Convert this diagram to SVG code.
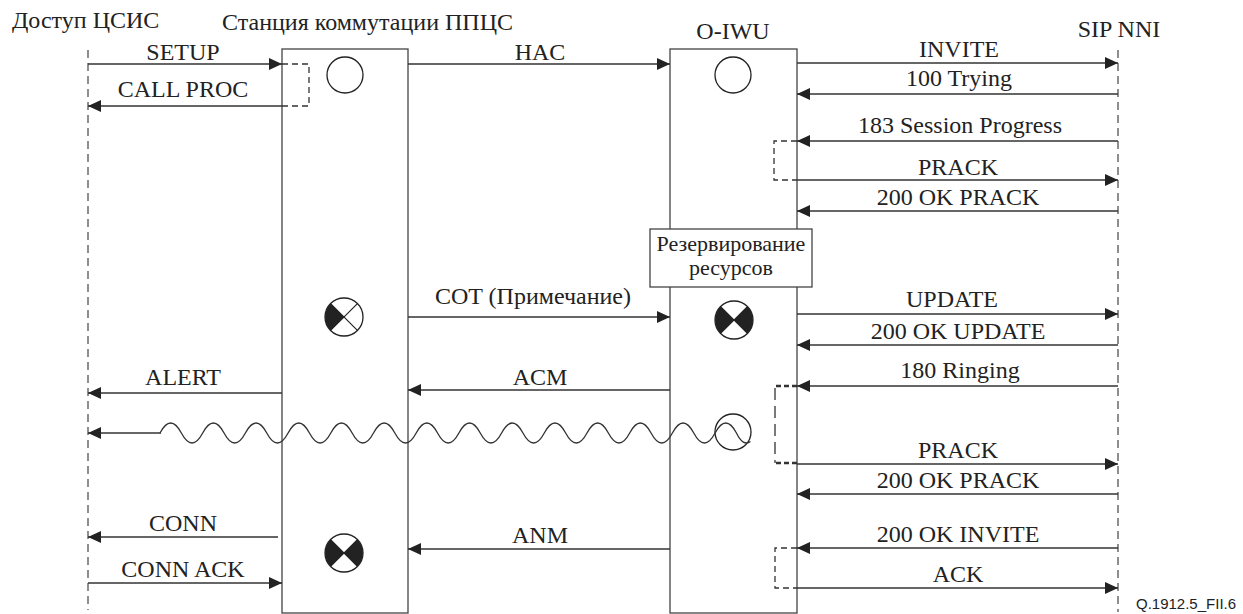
<svg xmlns="http://www.w3.org/2000/svg" width="1243" height="614" viewBox="0 0 1243 614">
<style>
.t{font-family:"Liberation Serif","Times New Roman",serif;font-size:24px;fill:#222;text-anchor:middle}
.h{font-family:"Liberation Serif","Times New Roman",serif;font-size:24px;fill:#222}
.r{font-family:"Liberation Serif","Times New Roman",serif;font-size:22px;fill:#222;text-anchor:middle}
.q{font-family:"Liberation Sans",Arial,sans-serif;font-size:15px;fill:#222}
.ln{stroke:#333;stroke-width:1.3;fill:none}
.ar{stroke:#333;stroke-width:1.3;fill:none;marker-end:url(#ah)}
.box{fill:#fff;stroke:#444;stroke-width:1.3}
.life{stroke:#444;stroke-width:1.2;stroke-dasharray:8 5;fill:none}
.db{stroke:#333;stroke-width:1.3;stroke-dasharray:6 4;fill:none}
.dbb{stroke:#333;stroke-width:2.6;stroke-dasharray:5 3;fill:none}
.sym{fill:#fff;stroke:#222;stroke-width:1.3}
</style>
<defs>
<marker id="ah" markerUnits="userSpaceOnUse" markerWidth="14" markerHeight="12" refX="13" refY="6" orient="auto">
<path d="M0,0 L13,6 L0,12 Z" fill="#222"/>
</marker>
<g id="xcross">
<circle r="19" class="sym"/>
<path d="M-13.4,-13.4 L13.4,13.4 M-13.4,13.4 L13.4,-13.4" stroke="#222" stroke-width="1.2"/>
</g>
<path id="lw" d="M0,0 L-13.4,-13.4 A19,19 0 0 0 -13.4,13.4 Z" fill="#222"/>
<path id="rw" d="M0,0 L13.4,-13.4 A19,19 0 0 1 13.4,13.4 Z" fill="#222"/>
</defs>

<g id="headers">
<text class="h" x="12" y="28">Доступ ЦСИС</text>
<text class="h" x="222" y="30">Станция коммутации ППЦС</text>
<text class="t" x="733" y="39">O-IWU</text>
<text class="t" x="1119" y="37">SIP NNI</text>
</g>

<g id="lifeline-isdn"><path class="life" d="M88,50 V610"/></g>
<g id="lifeline-sip"><path class="life" d="M1118,50 V612"/></g>

<g id="node-station">
<rect class="box" x="282" y="49" width="126" height="564"/>
<circle cx="345" cy="75" r="18" class="sym"/>
<g transform="translate(344,317)"><use href="#xcross"/><use href="#lw"/></g>
<g transform="translate(344,553)"><use href="#xcross"/><use href="#lw"/><use href="#rw"/></g>
</g>

<g id="node-oiwu">
<rect class="box" x="670" y="49" width="127" height="564"/>
<circle cx="733" cy="75" r="18" class="sym"/>
<g transform="translate(734,320)"><use href="#xcross"/><use href="#lw"/><use href="#rw"/></g>
<circle cx="733" cy="432" r="18" class="sym"/>
</g>

<g id="node-reserve">
<rect class="box" x="650" y="229" width="162" height="58"/>
<text class="r" x="731" y="251">Резервирование</text>
<text class="r" x="731" y="275">ресурсов</text>
</g>

<g id="connectors">
<path class="ar" d="M88,64 H282"/>
<path class="ar" d="M282,106 H88"/>
<path class="db" d="M282,64 H309 V106 H282"/>
<path class="ar" d="M282,393 H88"/>
<path class="ar" d="M161,433 H88"/>
<path class="ln" d="M160,433 Q170.675,413 181.35,433 T202.7,433 T224.05,433 T245.4,433 T266.75,433 T288.1,433 T309.45,433 T330.8,433 T352.15,433 T373.5,433 T394.85,433 T416.2,433 T437.55,433 T458.9,433 T480.25,433 T501.6,433 T522.95,433 T544.3,433 T565.65,433 T587,433 T608.35,433 T629.7,433 T651.05,433 T672.4,433 T693.75,433 T715.1,433 T736.45,433 Q743.2,447 750.5,441.4"/>
<path class="ar" d="M278,537 H88"/>
<path class="ar" d="M88,583 H282"/>

<path class="ar" d="M408,64 H670"/>
<path class="ar" d="M408,317 H670"/>
<path class="ar" d="M670,390 H408"/>
<path class="ar" d="M670,549 H408"/>

<path class="ar" d="M797,63 H1118"/>
<path class="ar" d="M1118,94 H797"/>
<path class="ar" d="M1118,141 H797"/>
<path class="ar" d="M797,180 H1118"/>
<path class="ar" d="M1118,211 H797"/>
<path class="db" d="M797,141 H774 V180 H797"/>
<path class="ar" d="M797,314 H1118"/>
<path class="ar" d="M1118,345 H797"/>
<path class="ar" d="M1118,386 H797"/>
<path class="ar" d="M797,464 H1118"/>
<path class="ar" d="M1118,494 H797"/>
<path class="dbb" d="M797,386 H775"/>
<path class="dbb" d="M797,463 H775"/>
<path class="ln" d="M775,388 V463" stroke-dasharray="12 6"/>
<path class="ar" d="M1118,548 H797"/>
<path class="ar" d="M797,588 H1118"/>
<path class="db" d="M797,548 H775 V588 H797"/>
</g>

<g id="labels">
<text class="t" x="183" y="60">SETUP</text>
<text class="t" x="183" y="97">CALL PROC</text>
<text class="t" x="183" y="385">ALERT</text>
<text class="t" x="183" y="531">CONN</text>
<text class="t" x="183" y="577">CONN ACK</text>
<text class="t" x="540" y="60">HAC</text>
<text class="t" x="533" y="304">COT (Примечание)</text>
<text class="t" x="540" y="385">ACM</text>
<text class="t" x="540" y="543">ANM</text>
<text class="t" x="959" y="57">INVITE</text>
<text class="t" x="959" y="86">100 Trying</text>
<text class="t" x="960" y="133">183 Session Progress</text>
<text class="t" x="958" y="175">PRACK</text>
<text class="t" x="958" y="205">200 OK PRACK</text>
<text class="t" x="952" y="307">UPDATE</text>
<text class="t" x="958" y="339">200 OK UPDATE</text>
<text class="t" x="960" y="378">180 Ringing</text>
<text class="t" x="958" y="458">PRACK</text>
<text class="t" x="958" y="488">200 OK PRACK</text>
<text class="t" x="958" y="542">200 OK INVITE</text>
<text class="t" x="958" y="582">ACK</text>
<text class="q" x="1136" y="609">Q.1912.5_FII.6</text>
</g>
</svg>
